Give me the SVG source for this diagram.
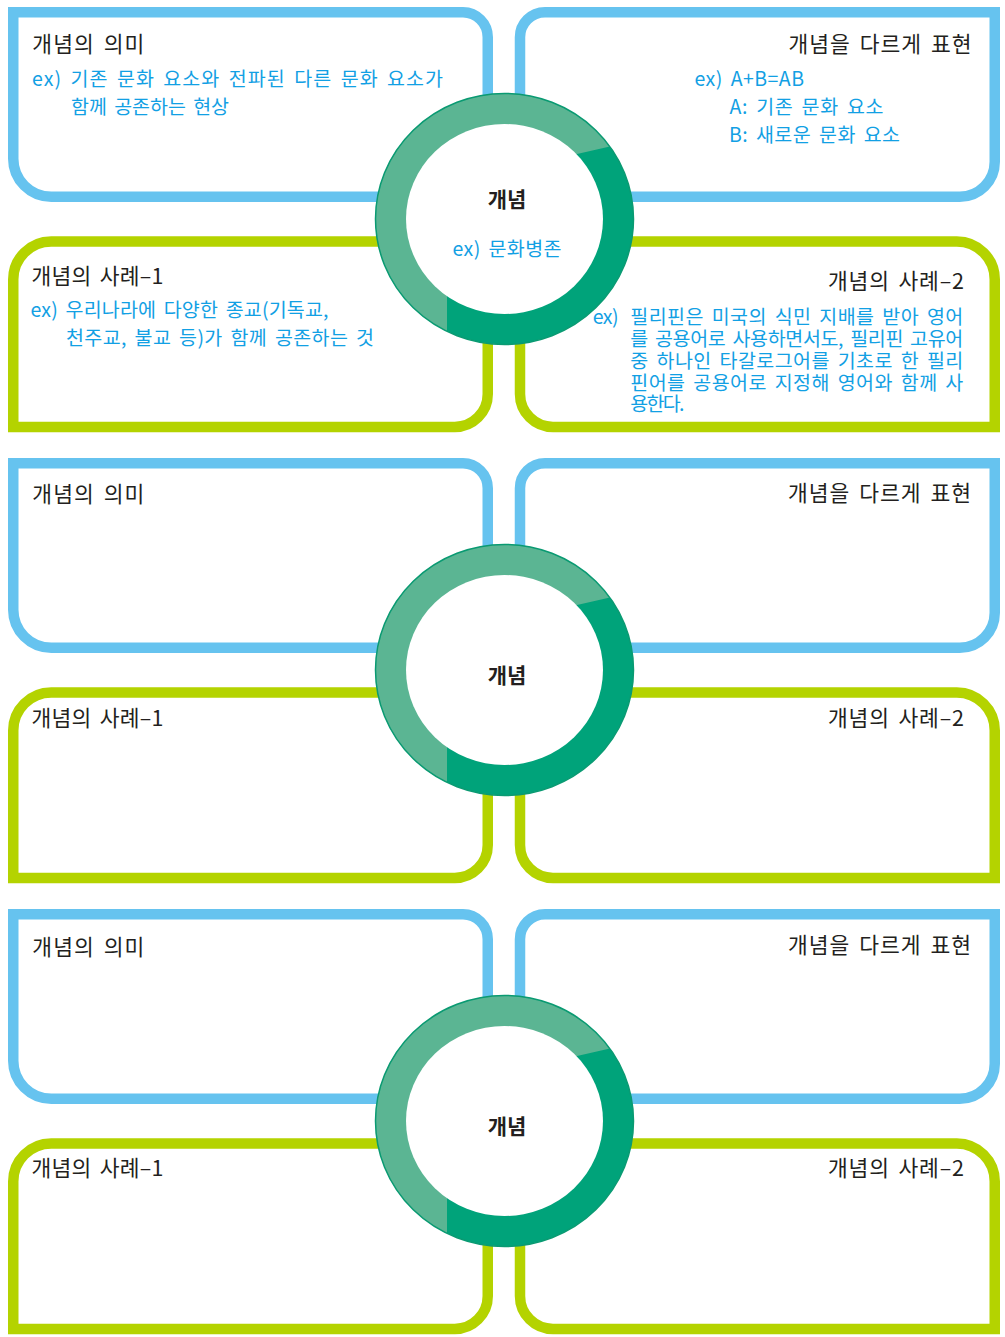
<svg xmlns="http://www.w3.org/2000/svg" width="1005" height="1337" viewBox="0 0 1005 1337">
<style>
.blue{fill:none;stroke:#66C3EF;stroke-width:10.5;stroke-linejoin:miter}
.green{fill:none;stroke:#B4D300;stroke-width:10.5;stroke-linejoin:miter}
text{font-family:"Noto Sans CJK KR","Noto Sans",sans-serif}
.t{font-size:21.5px;fill:#231F20;word-spacing:3px}
.b{font-size:19.5px;fill:#12A0E4;word-spacing:3px}
.c{font-size:21px;font-weight:bold;fill:#231F20}
</style>
<defs>
<clipPath id="ringClip"><ellipse cx="0" cy="0" rx="129" ry="125.5"/></clipPath>
<g id="ringShape">
<ellipse cx="0" cy="0" rx="129" ry="125.5" fill="#00A37A"/>
<polygon clip-path="url(#ringClip)" points="-57.5,150 -150,150 -150,-150 150,-150 150,-82.6 -57.5,-35.3" fill="#5BB593"/>
<ellipse cx="0" cy="0" rx="129" ry="125.5" fill="none" stroke="#0A9A72" stroke-width="1.5"/>
<ellipse cx="0" cy="0" rx="98.5" ry="95" fill="#FFFFFF"/>
</g>
<path id="frameTL" d="M13.25,12.25 H463 A25,25 0 0 1 487.75,37.25 V196.75 H51.25 A38,38 0 0 1 13.25,158.75 Z"/>
<path id="frameTR" d="M520,37.25 A25,25 0 0 1 545,12.25 H994.75 V161.75 A35,35 0 0 1 959.75,196.75 H520 Z"/>
<path id="frameBL" d="M13.25,279.5 A38,38 0 0 1 51.25,241.5 H487.75 V394 A33,33 0 0 1 454.75,427 H13.25 Z"/>
<path id="frameBR" d="M520,241.5 H956.75 A38,38 0 0 1 994.75,279.5 V427 H553 A33,33 0 0 1 520,394 Z"/>
</defs>

<!-- Section 1 -->
<g id="section1">
<g id="s1-meaning">
<use href="#frameTL" class="blue"/>
<text class="t" x="32.3" y="52" textLength="112">개념의 의미</text>
<text class="b" x="32" y="86" textLength="411">ex) 기존 문화 요소와 전파된 다른 문화 요소가</text>
<text class="b" x="71" y="114" textLength="158">함께 공존하는 현상</text>
</g>
<g id="s1-expression">
<use href="#frameTR" class="blue"/>
<text class="t" x="788.5" y="52" textLength="183">개념을 다르게 표현</text>
<text class="b" x="694.5" y="86" textLength="109.5">ex) A+B=AB</text>
<text class="b" x="729.5" y="114" textLength="154">A: 기존 문화 요소</text>
<text class="b" x="729" y="142" textLength="171">B: 새로운 문화 요소</text>
</g>
<g id="s1-case1">
<use href="#frameBL" class="green"/>
<text class="t" x="31.5" y="284" textLength="132">개념의 사례–1</text>
<text class="b" x="30.5" y="317" textLength="298">ex) 우리나라에 다양한 종교(기독교,</text>
<text class="b" x="66" y="345" textLength="308">천주교, 불교 등)가 함께 공존하는 것</text>
</g>
<g id="s1-case2">
<use href="#frameBR" class="green"/>
<text class="t" x="828" y="289" textLength="136">개념의 사례–2</text>
<text class="b"><tspan x="592.7" y="324" textLength="26">ex)</tspan><tspan x="630.3" y="324" textLength="333">필리핀은 미국의 식민 지배를 받아 영어</tspan><tspan x="630.3" y="346" textLength="333">를 공용어로 사용하면서도, 필리핀 고유어</tspan><tspan x="630.3" y="368" textLength="333">중 하나인 타갈로그어를 기초로 한 필리</tspan><tspan x="630.3" y="390" textLength="333">핀어를 공용어로 지정해 영어와 함께 사</tspan><tspan x="630.3" y="411" textLength="54">용한다.</tspan></text>
</g>
<g id="s1-concept">
<use href="#ringShape" x="504.5" y="219"/>
<text class="c" x="507" y="207" text-anchor="middle">개념</text>
<text class="b" x="452.5" y="255.5" textLength="109">ex) 문화병존</text>
</g>
</g>

<!-- Section 2 -->
<g id="section2" transform="translate(0,451)">
<g id="s2-meaning">
<use href="#frameTL" class="blue"/>
<text class="t" x="32.3" y="51" textLength="112">개념의 의미</text>
</g>
<g id="s2-expression">
<use href="#frameTR" class="blue"/>
<text class="t" x="788" y="50" textLength="183">개념을 다르게 표현</text>
</g>
<g id="s2-case1">
<use href="#frameBL" class="green"/>
<text class="t" x="31.5" y="275" textLength="132">개념의 사례–1</text>
</g>
<g id="s2-case2">
<use href="#frameBR" class="green"/>
<text class="t" x="828" y="275" textLength="136">개념의 사례–2</text>
</g>
<g id="s2-concept">
<use href="#ringShape" x="504.5" y="219"/>
<text class="c" x="507" y="232" text-anchor="middle">개념</text>
</g>
</g>

<!-- Section 3 -->
<g id="section3" transform="translate(0,902)">
<g id="s3-meaning">
<use href="#frameTL" class="blue"/>
<text class="t" x="32.3" y="53" textLength="112">개념의 의미</text>
</g>
<g id="s3-expression">
<use href="#frameTR" class="blue"/>
<text class="t" x="788" y="51" textLength="183">개념을 다르게 표현</text>
</g>
<g id="s3-case1">
<use href="#frameBL" class="green"/>
<text class="t" x="31.5" y="274" textLength="132">개념의 사례–1</text>
</g>
<g id="s3-case2">
<use href="#frameBR" class="green"/>
<text class="t" x="828" y="274" textLength="136">개념의 사례–2</text>
</g>
<g id="s3-concept">
<use href="#ringShape" x="504.5" y="219"/>
<text class="c" x="507" y="232" text-anchor="middle">개념</text>
</g>
</g>
</svg>
